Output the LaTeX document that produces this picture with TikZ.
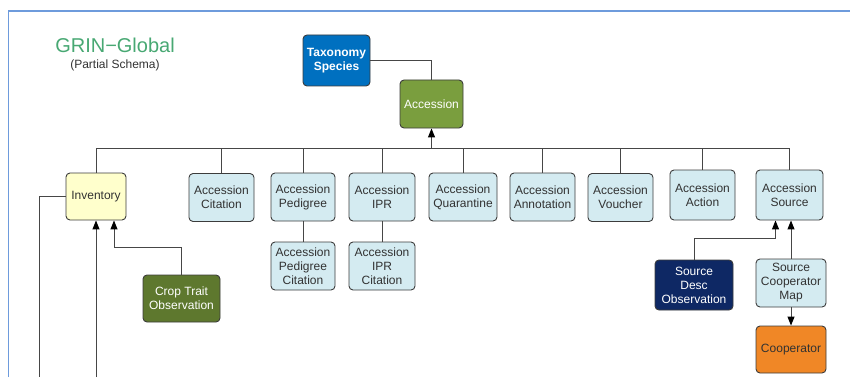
\documentclass[tikz,border=0pt]{standalone}
\usepackage{fontspec}
\setmainfont{Liberation Sans}
\usepackage{tikz}
\usetikzlibrary{arrows.meta}
\usetikzlibrary{calc}
\definecolor{cLight}{RGB}{212,235,241}
\definecolor{cEdge}{RGB}{60,60,60}
\definecolor{cLink}{RGB}{70,70,70}
\definecolor{cText}{RGB}{50,50,50}
\definecolor{cAcc}{RGB}{122,158,62}
\definecolor{cCrop}{RGB}{94,120,46}
\definecolor{cTax}{RGB}{0,112,192}
\definecolor{cNavy}{RGB}{14,40,100}
\definecolor{cOrange}{RGB}{240,135,38}
\definecolor{cInv}{RGB}{255,255,204}
\definecolor{cTitle}{RGB}{72,168,115}
\definecolor{cFrame}{RGB}{110,155,220}
\tikzset{tbl/.style={draw=cEdge, rounded corners=4pt, line width=0.9pt, minimum width=65pt, minimum height=48pt, inner sep=1pt, align=center, font=\fontsize{12}{14}\selectfont, text=cText}}
\tikzset{lt/.style={tbl, fill=cLight}}
\tikzset{link/.style={draw=cLink, line width=1pt}}
\tikzset{arr/.style={link, -{Triangle[length=9pt,width=7pt,color=black]}}}
\begin{document}
\begin{tikzpicture}[x=1pt,y=-1pt]
    \useasboundingbox (0,0) rectangle (850,377);
    \draw[cFrame, line width=1.5pt] (8.5,377) -- (8.5,11) -- (850,11);
    \node[text=cTitle, font=\fontsize{20}{20}\selectfont] (title) at (115,45) {GRIN−Global};
    \node[text=cText, font=\fontsize{12}{12}\selectfont] (sub) at (115,65) {(Partial Schema)};
    \node[tbl, fill=cTax, text=white, font=\fontsize{12}{14}\selectfont\bfseries, minimum width=67pt, minimum height=51pt] (tax) at (336.5,60.5) {Taxonomy\\Species};
    \node[tbl, fill=cAcc, text=white, minimum width=63pt] (acc) at (431.5,104) {Accession};
    \node[tbl, fill=cInv, minimum width=60pt, minimum height=47pt] (inv) at (96,196.5) {Inventory};
    \node[lt] (cit) at (221.5,197.5) {Accession\\Citation};
    \node[lt, minimum width=64pt] (ped) at (303,197) {Accession\\Pedigree};
    \node[lt, minimum width=66pt] (ipr) at (382,197) {Accession\\IPR};
    \node[lt, minimum width=68pt] (qua) at (463,197) {Accession\\Quarantine};
    \node[lt] (ann) at (542.5,197) {Accession\\Annotation};
    \node[lt] (vou) at (620.5,197.5) {Accession\\Voucher};
    \node[lt, minimum height=50pt] (act) at (702.5,195) {Accession\\Action};
    \node[lt, minimum width=67pt, minimum height=50pt] (src) at (789.5,195) {Accession\\Source};
    \node[lt, minimum width=64pt] (pedcit) at (303,266) {Accession\\Pedigree\\Citation};
    \node[lt, minimum width=66pt] (iprcit) at (382,266) {Accession\\IPR\\Citation};
    \node[tbl, fill=cCrop, text=white, minimum width=77pt, minimum height=47pt] (crop) at (181.5,298.5) {Crop Trait\\Observation};
    \node[tbl, fill=cNavy, text=white, minimum width=78pt, minimum height=50pt] (sdo) at (694,285) {Source\\Desc\\Observation};
    \node[lt, minimum width=70pt] (map) at (791,283) {Source\\Cooperator\\Map};
    \node[tbl, fill=cOrange, minimum width=70pt, minimum height=47pt] (coop) at (791,349.5) {Cooperator};
    \coordinate (bus) at (431.5,148);
    \coordinate (invin) at (96,377);
    \coordinate (invout) at (39,377);
    \draw[link] (tax.east) -| (acc.north);
    \draw[link] (inv.north |- bus) -- (src.north |- bus);
    \draw[arr] (bus) -- (acc.south);
    \foreach \n in {inv,cit,ped,ipr,qua,ann,vou,act,src}
        \draw[link] (\n.north) -- (\n.north |- bus);
    \draw[link] (ped) -- (pedcit);
    \draw[link] (ipr) -- (iprcit);
    \draw[arr] (invin) -- (inv.south);
    \draw[link] (inv.west) -| (invout);
    \draw[arr] (crop.north) -- ++(0,-27) -| ([xshift=18pt]inv.south);
    \draw[arr] (sdo.north) -- ++(0,-21) -| ([xshift=-14pt]src.south);
    \draw[arr] (map.north) -- (map.north |- src.south);
    \draw[arr] (map.south) -- (coop.north);
\end{tikzpicture}
\end{document}
